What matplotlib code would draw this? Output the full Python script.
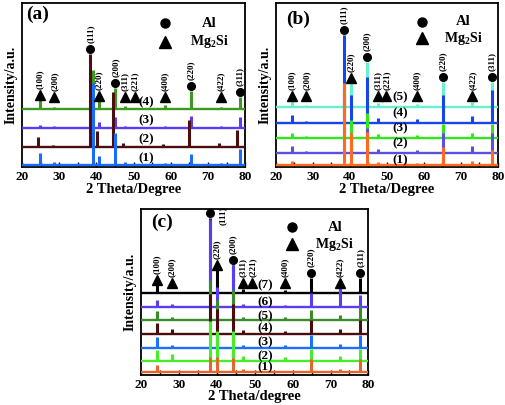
import numpy as np
import matplotlib.pyplot as plt

plt.rcParams['font.family'] = 'Liberation Serif'
plt.rcParams['font.weight'] = 'bold'
plt.rcParams['axes.labelweight'] = 'bold'
plt.rcParams['mathtext.fontset'] = 'custom'
plt.rcParams['mathtext.rm'] = 'Liberation Serif:bold'
plt.rcParams['mathtext.it'] = 'Liberation Serif:bold'
plt.rcParams['mathtext.bf'] = 'Liberation Serif:bold'

# peak indices (same order in every panel)
hkl = ['(100)', '(200)', '(111)', '(220)', '(200)', '(311)', '(221)',
       '(400)', '(220)', '(422)', '(311)']
phase = ['M', 'M', 'A', 'M', 'A', 'M', 'M', 'M', 'A', 'M', 'A']

# ---- panel (a) ----
pos_a_main = [24.9, 28.7, 39.0, 40.7, 45.1, 47.7, 50.3, 58.5, 65.5, 73.4, 78.5]
pos_a_2 = [24.3, 28.3, 38.4, 40.1, 44.5, 47.2, 49.8, 58.0, 64.9, 72.9, 77.9]
base_a = [1.5, 20, 39, 58]
a1 = [12, 3, 82, 9, 32, 3, 0.5, 2, 11, 2, 16]
a2 = [10, 1.5, 93, 16, 55, 4, 0.5, 2.5, 27, 3.5, 17]
a3 = [3, 2, 25, 6, 11, 2, 0.5, 1.5, 12, 2, 11]
a4 = [9, 2, 39, 8, 21, 3, 0.5, 3.5, 18, 2, 12]
colors_a = ['#1a6cff', '#4b0f0f', '#5a3cf5', '#3c9a1e']

# ---- panel (b) ----
pos_b = [24.3, 28.3, 38.5, 40.3, 44.6, 47.5, 49.9, 58.2, 65.1, 73.1, 78.3]
base_b = [1.5, 14, 29, 44, 60]
b1 = [4, 1.5, 82, 32, 33, 3, 0.5, 2, 18, 4, 15]
b2 = [7, 2, 65, 20, 25, 4, 0.5, 3, 20, 7, 20]
b3 = [5, 1.5, 50, 18, 25, 4, 0.5, 3, 14, 5, 14]
b4 = [8, 2, 88, 28, 46, 5, 0.5, 4, 28, 7, 33]
b5 = [6, 2, 72, 24, 45, 4, 0.5, 3, 25, 5, 25]
colors_b = ['#ff6a20', '#5a50e0', '#30e81a', '#1845e8', '#66f2cc']

# ---- panel (c) ----
pos_c = [24.1, 28.1, 38.3, 40.0, 44.3, 46.9, 49.4, 57.9, 64.8, 72.5, 77.9]
base_c = [3, 14, 27, 41, 55, 68, 81.7]
c1 = [7, 1.5, 15, 15, 14, 3, 0.5, 1.5, 13, 3, 13]
c2 = [11, 7, 40, 30, 30, 5, 0.5, 4, 12, 5, 12]
c3 = [11, 3, 16, 14, 13, 3, 0.5, 3, 13, 4, 13]
c4 = [11, 5, 40, 25, 30, 4, 0.5, 3, 14, 5, 14]
c5 = [9, 3, 40, 20, 30, 3, 0.5, 3, 10, 5, 14]
c6 = [7, 3, 88, 20, 42, 3, 0.5, 2, 14, 19, 12]
c7 = [8, 1, 75, 23, 28, 4, 0.5, 3, 15, 3, 15]
colors_c = ['#e8642a', '#44ee28', '#1a70ff', '#4a0c0c', '#3a8c2a', '#5a3cf5', '#000000']


def draw_panel(ax, positions, bases, heights, colors, ylim, lab_x, lab_dy,
               min_gap, letter, letter_xy, leg_x, leg_y, text_x, xlabel,
               special=None):
    n = len(bases)
    # top series first, so the lower ones sit on top
    for i in reversed(range(n)):
        z = 2 + (n - i)
        ax.hlines(bases[i], 20, 80, color=colors[i], lw=1.7, zorder=z)
        ax.vlines(positions[i], bases[i], bases[i] + np.array(heights[i]),
                  color=colors[i], lw=2.2, zorder=z)
        ax.text(lab_x, bases[i] + lab_dy[i], '(%d)' % (i + 1), ha='center',
                va='center', fontsize=9.5, fontweight='bold', zorder=20)

    for k in range(len(hkl)):
        tips = [bases[i] + heights[i][k] for i in range(n)]
        j = int(np.argmax(tips))
        mx = positions[j][k]
        my = max(tips[j] + 5, bases[-1] + min_gap)
        mk = 'o' if phase[k] == 'A' else '^'
        ax.plot(mx, my, marker=mk, color='k', ms=5.5 if mk == 'o' else 7.5,
                ls='none', clip_on=False, zorder=25)
        if special is not None and k == special:
            ax.annotate(hkl[k], (mx, my), xytext=(6, 5), textcoords='offset points',
                        rotation=90, ha='left', va='top', fontsize=6.5,
                        fontweight='bold', annotation_clip=False)
        else:
            ax.annotate(hkl[k], (mx, my), xytext=(0, 4.5), textcoords='offset points',
                        rotation=90, ha='center', va='bottom', fontsize=6.5,
                        fontweight='bold', annotation_clip=False)

    # legend
    ax.plot(leg_x, leg_y[0], marker='o', color='k', ms=6.5, transform=ax.transAxes)
    ax.plot(leg_x, leg_y[1], marker='^', color='k', ms=8.5, transform=ax.transAxes)
    ax.text(text_x, leg_y[0], 'Al', transform=ax.transAxes, ha='center',
            va='center', fontsize=10.5, fontweight='bold')
    ax.text(text_x, leg_y[1], 'Mg$_2$Si', transform=ax.transAxes, ha='center',
            va='center', fontsize=10, fontweight='bold')
    ax.text(letter_xy[0], letter_xy[1], letter, transform=ax.transAxes,
            ha='left', va='top', fontsize=14, fontweight='bold')

    ax.set_xlim(20, 80)
    ax.set_ylim(0, ylim)
    ax.set_xticks(np.arange(20, 81, 10))
    ax.set_xticks(np.arange(25, 80, 10), minor=True)
    ax.set_yticks([])
    ax.tick_params(axis='x', which='both', direction='in', length=3.5,
                   width=1, labelsize=9.5, top=False, pad=3)
    for t in ax.get_xticklabels():
        t.set_fontweight('bold')
    for s in ax.spines.values():
        s.set_linewidth(1.3)
    ax.set_xlabel(xlabel, fontsize=10.5, fontweight='bold', labelpad=0)
    ax.set_ylabel('Intensity/a.u.', fontsize=10, fontweight='bold', labelpad=3)


fig = plt.figure(figsize=(5.06, 4.05), dpi=100)
ax_a = fig.add_axes([0.0435, 0.588, 0.441, 0.405])
ax_b = fig.add_axes([0.545, 0.588, 0.439, 0.405])
ax_c = fig.add_axes([0.279, 0.074, 0.449, 0.41])

draw_panel(ax_a, [pos_a_main, pos_a_2, pos_a_main, pos_a_main], base_a,
           [a1, a2, a3, a4], colors_a, 164, 53.5, [7.5, 7.5, 8, 7],
           12, '(a)', (0.02, 0.98), 0.641, (0.875, 0.762), 0.841,
           '2 Theta/Degree')
draw_panel(ax_b, [pos_b] * 5, base_b, [b1, b2, b3, b4, b5], colors_b, 164,
           53.5, [5.5, 10, 10, 10, 10], 11, '(b)', (0.045, 0.95),
           0.658, (0.886, 0.785), 0.843, '2 Theta/Degree')
draw_panel(ax_c, [pos_c] * 7, base_c, [c1, c2, c3, c4, c5, c6, c7], colors_c,
           166, 52.8, [4.3, 5, 6, 5.7, 4, 5, 8], 10, '(c)', (0.045, 0.97),
           0.664, (0.89, 0.787), 0.852, '2 Theta/degree', special=2)
ax_c.xaxis.labelpad = -1

fig.savefig('out.png', dpi=100)
